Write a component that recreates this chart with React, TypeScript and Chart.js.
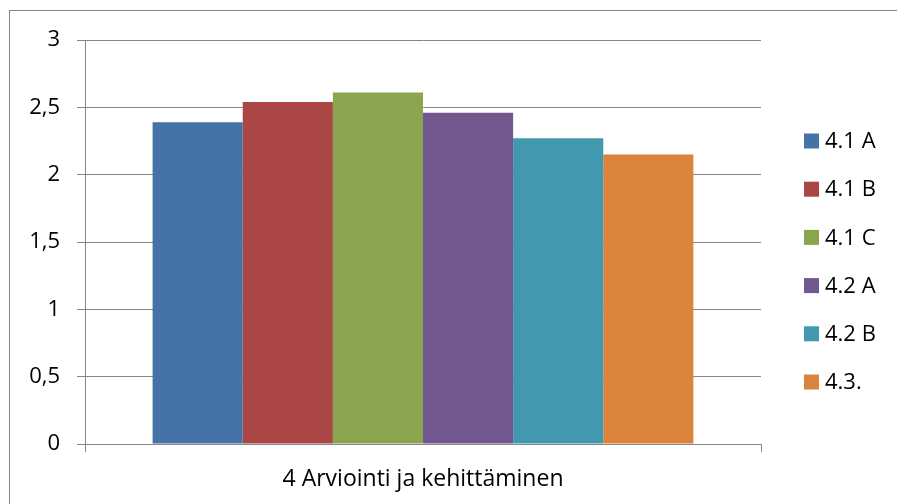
import React, { useEffect, useRef } from "react";
import { Chart, registerables } from "chart.js";

Chart.register(...registerables);

const categories = ["4 Arviointi ja kehittäminen"];
const seriesNames = ["4.1 A", "4.1 B", "4.1 C", "4.2 A", "4.2 B", "4.3."];
const seriesValues = [2.39, 2.54, 2.61, 2.46, 2.27, 2.15];
const seriesColors = ["#4572A7", "#AA4643", "#89A54E", "#71588F", "#4198AF", "#DB843D"];
const yTicks = [0, 0.5, 1, 1.5, 2, 2.5, 3];

const FONT = "'Open Sans', 'Noto Sans', sans-serif";
const FONT_SIZE = 22;
const GRID = "#868686";

const framePlugin = {
  id: "frame",
  afterDraw(chart: any) {
    const ctx = chart.ctx;
    ctx.save();
    ctx.strokeStyle = GRID;
    ctx.lineWidth = 1;
    ctx.strokeRect(9.5, 10.5, 900, 520);
    // legend
    const x0 = 804;
    const y0 = 141;
    const step = 48.2;
    ctx.font = `${FONT_SIZE}px ${FONT}`;
    ctx.textBaseline = "middle";
    ctx.textAlign = "left";
    chart.data.datasets.forEach((ds: any, i: number) => {
      const cy = y0 + i * step;
      ctx.fillStyle = ds.backgroundColor;
      ctx.fillRect(x0, cy - 7.5, 15, 15);
      ctx.fillStyle = "#000";
      ctx.fillText(ds.label, x0 + 21, cy + 1);
    });
    ctx.restore();
  },
};

export default function App() {
  const ref = useRef<HTMLCanvasElement | null>(null);
  useEffect(() => {
    if (!ref.current) return;
    const chart = new Chart(ref.current, {
      type: "bar",
      data: {
        labels: categories,
        datasets: seriesNames.map((name, i) => ({
          label: name,
          data: [seriesValues[i]],
          backgroundColor: seriesColors[i],
          borderWidth: 0,
          categoryPercentage: 0.8,
          barPercentage: 1,
        })),
      },
      options: {
        animation: false,
        responsive: true,
        maintainAspectRatio: false,
        layout: { padding: { left: 0, top: 40, right: 136, bottom: 0 } },
        plugins: {
          legend: { display: false },
          tooltip: { enabled: false },
        },
        scales: {
          x: {
            grid: {
              display: true,
              drawOnChartArea: false,
              drawTicks: true,
              tickLength: 8,
              color: GRID,
              offset: true,
            },
            border: { display: true, color: GRID, width: 1 },
            ticks: {
              color: "#000",
              font: { family: FONT, size: 23 },
              padding: 14,
            },
            afterFit: (scale: any) => {
              scale.height = 60;
            },
          },
          y: {
            min: 0,
            max: 3,
            afterBuildTicks: (scale: any) => {
              scale.ticks = yTicks.map((v) => ({ value: v }));
            },
            grid: {
              color: GRID,
              drawTicks: true,
              tickLength: 8,
            },
            border: { display: true, color: GRID, width: 1 },
            ticks: {
              color: "#000",
              font: { family: FONT, size: FONT_SIZE },
              padding: 17,
              callback: (v: any) => String(v).replace(".", ","),
            },
            afterFit: (scale: any) => {
              scale.width = 85;
            },
          },
        },
      },
      plugins: [framePlugin],
    });
    return () => chart.destroy();
  }, []);
  return (
    <div style={{ position: "fixed", left: 0, top: 0, width: 897, height: 504, background: "#fff" }}>
      <canvas ref={ref} />
    </div>
  );
}
